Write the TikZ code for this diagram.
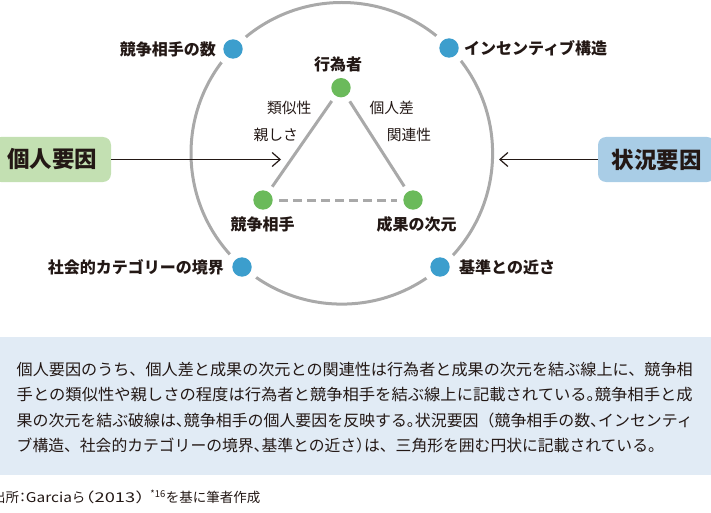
\documentclass[tikz,border=0pt]{standalone}
\usepackage{fontspec}
\setmainfont{Noto Sans CJK JP}
\usetikzlibrary{arrows.meta}
\definecolor{txt}{HTML}{231815}
\definecolor{ring}{HTML}{A9A9A9}
\definecolor{gdot}{HTML}{6BBA5B}
\definecolor{bdot}{HTML}{3C9ECD}
\definecolor{gboxc}{HTML}{C3E0B2}
\definecolor{bboxc}{HTML}{A9CDE6}
\definecolor{notec}{HTML}{E1EBF5}
\newcommand\hh[1]{{\addfontfeature{RawFeature=+halt}#1}}
\tikzset{
  halo/.style={circle, fill=white, minimum size=35pt, inner sep=0pt},
  anch/.style={circle, minimum size=32pt, inner sep=0pt},
  bdotst/.style={circle, fill=bdot, minimum size=19.4pt, inner sep=0pt},
  gdotst/.style={circle, fill=gdot, minimum size=19.4pt, inner sep=0pt},
  ringst/.style={circle, draw=ring, line width=3pt, minimum size=301.6pt, inner sep=0pt},
  tri/.style={draw=ring, line width=3pt},
  tridash/.style={draw=ring, line width=3pt, dash pattern=on 9pt off 5pt},
  blab/.style={text=txt, inner sep=0pt, font=\fontsize{16}{19}\selectfont\bfseries},
  slab/.style={text=txt, inner sep=0pt, font=\fontsize{14.8}{18}\selectfont},
  bigbox/.style={rounded corners=8pt, minimum height=45pt, inner sep=0pt, text=txt,
                 font=\fontsize{22.5}{26}\selectfont\bfseries},
  arr/.style={draw=txt, line width=1.2pt, -{Straight Barb[length=8pt,width=14pt]}},
  notebox/.style={fill=notec, minimum width=715pt, minimum height=138pt, inner sep=0pt},
  noteline/.style={anchor=west, inner sep=0pt, text=txt, font=\fontsize{15.8}{20}\selectfont},
}
\begin{document}
\begin{tikzpicture}[x=1pt,y=-1pt]
\useasboundingbox (0,0) rectangle (711,513);
\clip (0,0) rectangle (711,513);
% note box
\node[notebox] (nb) at (355.5,406) {};
% ring
\node[ringst] (rc) at (341.8,153.3) {};
% blue dots
\node[halo] (h1) at (233,49) {};
\node[halo] (h2) at (449,48) {};
\node[halo] (h3) at (242,267) {};
\node[halo] (h4) at (440,267) {};
\node[bdotst] (b1) at (h1) {};
\node[bdotst] (b2) at (h2) {};
\node[bdotst] (b3) at (h3) {};
\node[bdotst] (b4) at (h4) {};
% green triangle
\node[anch] (ga) at (341,87.7) {};
\node[anch] (gb) at (263,200) {};
\node[anch] (gc) at (413,200) {};
\draw[tri] (ga) -- (gb);
\draw[tri] (ga) -- (gc);
\draw[tridash] (gb) -- (gc);
\node[gdotst] (da) at (ga) {};
\node[gdotst] (db) at (gb) {};
\node[gdotst] (dc) at (gc) {};
% labels
\node[blab, anchor=east] (t1) at (216,49) {競争相手の数};
\node[blab, anchor=west] (t2) at (464,48) {インセンティブ構造};
\node[blab, anchor=east] (t3) at (224,267) {社会的カテゴリーの境界};
\node[blab, anchor=west] (t4) at (459,267) {基準との近さ};
\node[blab] (ta) at (338,64) {行為者};
\node[blab] (tb) at (262.5,224) {競争相手};
\node[blab] (tc) at (416.5,224) {成果の次元};
\node[slab] (s1) at (289.3,108.3) {類似性};
\node[slab] (s2) at (275.8,135) {親しさ};
\node[slab] (s3) at (391.7,108.3) {個人差};
\node[slab] (s4) at (409,135) {関連性};
% side boxes and arrows
\node[bigbox, fill=gboxc, minimum width=118pt] (pl) at (52,159.5) {個人要因};
\node[bigbox, fill=bboxc, minimum width=117pt] (pr) at (656.5,159.5) {状況要因};
\coordinate (tipL) at (281,159.5);
\coordinate (tipR) at (499,159.5);
\draw[arr] (pl) -- (tipL);
\draw[arr] (pr) -- (tipR);
% note text
\node[noteline] (l1) at (16.5,370) {\resizebox{676pt}{\height}{個人要因のうち、個人差と成果の次元との関連性は行為者と成果の次元を結ぶ線上に、競争相}};
\node[noteline] (l2) at (16.5,395) {\resizebox{676pt}{\height}{手との類似性や親しさの程度は行為者と競争相手を結ぶ線上に記載されている\hh{。}競争相手と成}};
\node[noteline] (l3) at (16.5,420) {\resizebox{676pt}{\height}{果の次元を結ぶ破線は\hh{、}競争相手の個人要因を反映する\hh{。}状況要因（競争相手の数\hh{、}インセンティ}};
\node[noteline] (l4) at (16.5,445) {ブ構造、社会的カテゴリーの境界\hh{、}基準との近さ\hh{）}は、三角形を囲む円状に記載されている。};
% source
\node[anchor=west, inner sep=0pt, text=txt, font=\fontsize{13.5}{16}\selectfont] (src) at (-8,497) {出所\hh{：}\resizebox{46pt}{\height}{Garcia}ら\resizebox{59pt}{\height}{\hh{（}2013\hh{）}}\hspace{6pt}\textsuperscript{*16}を基に筆者作成};
\end{tikzpicture}
\end{document}
